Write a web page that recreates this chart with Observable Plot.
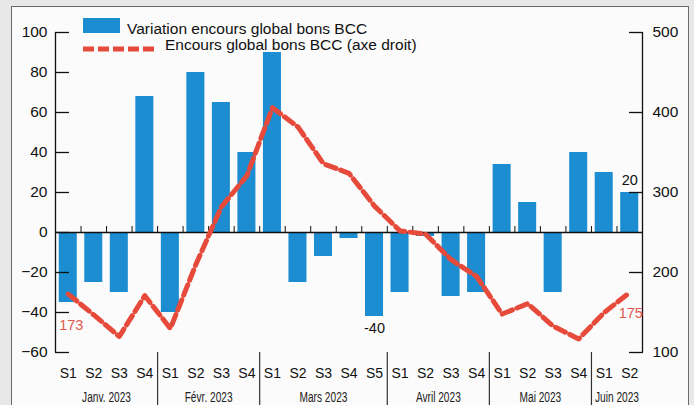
<!DOCTYPE html>
<html>
<head>
<meta charset="utf-8">
<script src="https://cdn.jsdelivr.net/npm/d3@7"></script>
<script src="https://cdn.jsdelivr.net/npm/@observablehq/plot@0.6"></script>
<style>
html, body { margin: 0; padding: 0; background: #e8e8e8; }
#wrap { position: relative; width: 694px; height: 405px; overflow: hidden; background: #e8e8e8; }
#frame { position: absolute; left: 11px; top: 6px; width: 676px; height: 440px; border: 1.5px solid #6a6a6a; background: #fbfbfb; }
#chart { position: absolute; left: 0; top: 0; }
.legtxt { position: absolute; font-family: "Liberation Sans", Arial, sans-serif; font-size: 15.5px; line-height: 16px; color: #111; white-space: nowrap; }
.swatch { position: absolute; left: 83px; top: 18px; width: 37px; height: 15px; background: #1b8dd0; }
.dashsample { position: absolute; left: 83px; top: 44px; }
</style>
</head>
<body>
<div id="wrap">
  <div id="frame"></div>
  <div id="chart"></div>
  <div class="swatch"></div>
  <div class="legtxt" id="leg1" style="left:127px; top:21px;"></div>
  <svg class="dashsample" width="76" height="10"><line x1="0" y1="5" x2="74" y2="5" stroke="#e64a3b" stroke-width="5" stroke-dasharray="11,4"></line></svg>
  <div class="legtxt" id="leg2" style="left:165px; top:37px;"></div>
</div>
<script>
// ---- Data ----
const months = ["Janv. 2023", "Févr. 2023", "Mars 2023", "Avril 2023", "Mai 2023", "Juin 2023"];
const weeksPerMonth = [4, 4, 5, 4, 4, 2];
const weekLabels = ["S1","S2","S3","S4", "S1","S2","S3","S4", "S1","S2","S3","S4","S5", "S1","S2","S3","S4", "S1","S2","S3","S4", "S1","S2"];
// Variation encours global bons BCC (left axis)
const variation = [-35, -25, -30, 68, -40, 80, 65, 40, 90, -25, -12, -3, -42, -30, -2, -32, -30, 34, 15, -30, 40, 30, 20];
// Encours global bons BCC (right axis)
const encours = [173, 147, 120, 171, 130, 210, 282, 321, 406, 382, 336, 324, 283, 252, 248, 216, 195, 148, 161, 133, 117, 150, 175];
const leftTicks = [-60, -40, -20, 0, 20, 40, 60, 80, 100];
const rightTicks = [100, 200, 300, 400, 500];
const barLabelsBelow = [{i: 12, label: "-40"}];
const barLabelsAbove = [{i: 22, label: "20"}];
const lineLabelFirst = [{i: 0, label: "173"}];
const lineLabelLast = [{i: 22, label: "175"}];
const seriesNames = ["Variation encours global bons BCC", "Encours global bons BCC (axe droit)"];

document.getElementById("leg1").textContent = seriesNames[0];
document.getElementById("leg2").textContent = seriesNames[1];

// ---- Derived ----
const toLeft = v => (v - 250) / 2.5;      // right axis 100..500 <-> left axis -60..100
const toRight = l => l * 2.5 + 250;
const data = weekLabels.map((w, i) => ({i, week: w, variation: variation[i], encours: encours[i]}));
const starts = [];
let acc = 0;
for (const n of weeksPerMonth) { starts.push(acc); acc += n; }
const monthBounds = starts.slice(1);
const monthCenters = starts.map((s, k) => s + weeksPerMonth[k] / 2);
const N = weekLabels.length;

const blue = "#1b8dd0";
const red = "#e64a3b";
const font = "Liberation Sans, Arial, sans-serif";

const chart = Plot.plot({
  width: 694,
  height: 405,
  marginLeft: 55,
  marginRight: 52,
  marginTop: 32,
  marginBottom: 53,
  x: {domain: [0, N], axis: null},
  y: {domain: [-60, 100], axis: null},
  style: {background: "transparent", fontFamily: font, color: "#111", overflow: "visible"},
  marks: [
    Plot.rectY(data, {x1: d => d.i, x2: d => d.i + 1, y1: 0, y2: "variation", fill: blue, insetLeft: 3.75, insetRight: 3.75}),
    Plot.ruleY([0], {x1: 0, x2: N, stroke: "#111", strokeWidth: 1.5}),
    Plot.ruleX(d3.range(1, N), {y1: 0, y2: 3, stroke: "#111", strokeWidth: 1}),
    Plot.ruleX([0, N], {y1: -60, y2: 100, stroke: "#111", strokeWidth: 1.3}),
    Plot.axisY({anchor: "left", ticks: leftTicks, tickSize: -14, tickPadding: 22, fontSize: 15.5, fill: "#111", label: null, strokeWidth: 1.3}),
    Plot.axisY({anchor: "right", ticks: rightTicks.map(toLeft), tickFormat: d => String(toRight(d)), tickSize: -14, tickPadding: 24, fontSize: 15.5, fill: "#111", label: null, strokeWidth: 1.3}),
    Plot.axisX({anchor: "bottom", ticks: d3.range(N).map(i => i + 0.5), tickFormat: d => weekLabels[Math.floor(d)], tickSize: 0, tickPadding: 16, fontSize: 14, fill: "#111", label: null}),
    Plot.axisX({anchor: "bottom", ticks: monthBounds, tickFormat: () => "", tickSize: 53, stroke: "#333", strokeWidth: 1.2, label: null}),
    Plot.axisX({anchor: "bottom", ticks: monthCenters, tickFormat: d => months[monthCenters.indexOf(d)], tickSize: 0, tickPadding: 39, fontSize: 14.5, fill: "#222", label: null}),
    Plot.line(data, {x: d => d.i + 0.5, y: d => toLeft(d.encours), stroke: red, strokeWidth: 5, strokeDasharray: "11,5", curve: "linear"}),
    Plot.text(barLabelsBelow, {x: d => d.i + 0.5, y: d => variation[d.i], text: "label", dy: 12, fontSize: 14.5, fill: "#111"}),
    Plot.text(barLabelsAbove, {x: d => d.i + 0.5, y: d => variation[d.i], text: "label", dy: -12, fontSize: 14.5, fill: "#111"}),
    Plot.text(lineLabelFirst, {x: d => d.i + 0.5, y: d => toLeft(encours[d.i]), text: "label", dx: 3, dy: 31, fontSize: 14.5, fill: "#e0574a"}),
    Plot.text(lineLabelLast, {x: d => d.i + 0.5, y: d => toLeft(encours[d.i]), text: "label", dx: 1, dy: 21, fontSize: 14.5, fill: "#e0574a"})
  ]
});
// condense the month labels horizontally (narrow face as in the reference)
d3.select(chart).selectAll("text")
  .filter(function() { return months.includes(this.textContent); })
  .each(function() {
    const x = +(this.getAttribute("x") || 0);
    const t = this.getAttribute("transform") || "";
    this.setAttribute("transform", `${t} translate(${x},0) scale(0.7,1) translate(${-x},0)`);
  });
document.getElementById("chart").appendChild(chart);
</script>
</body>
</html>
